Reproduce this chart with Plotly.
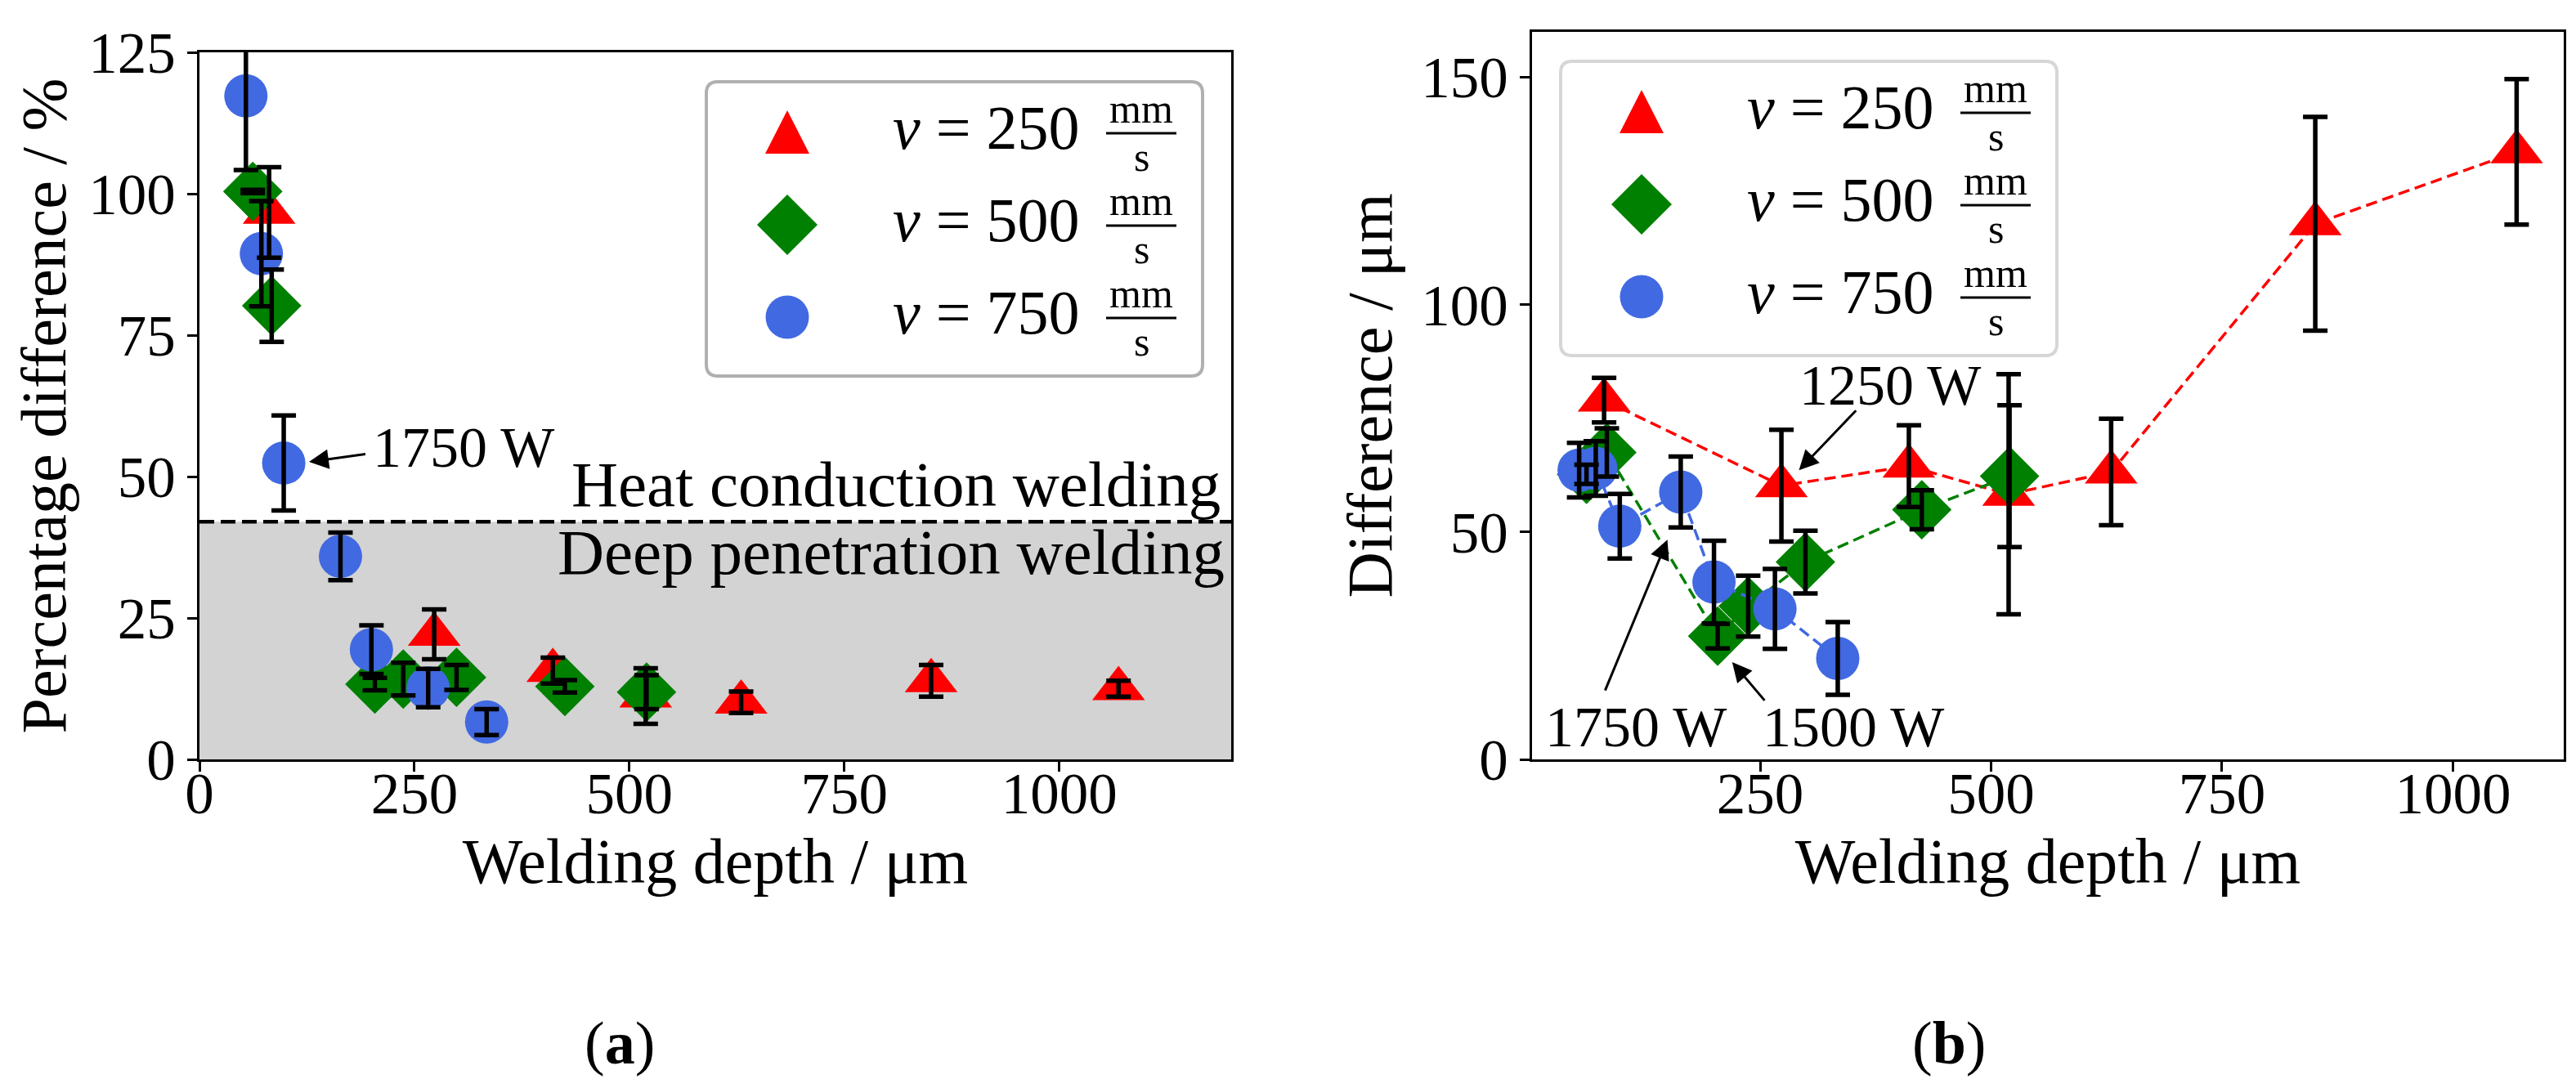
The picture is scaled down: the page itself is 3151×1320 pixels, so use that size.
import plotly.graph_objects as go

W, H = 3151, 1320

# ---------------- data ----------------
speeds = ["250", "500", "750"]
colors = ["#ff0000", "#008000", "#4169e1"]
symbols = ["triangle-up", "diamond", "circle"]
marker_sizes = [56, 56, 53]

depth_250 = [81, 273, 411, 519, 630, 851, 1069]
diff_250 = [79.0, 60.2, 64.5, 58.3, 63.2, 117.8, 133.6]
diff_err_250 = [4.9, 12.3, 9.0, 26.4, 11.7, 23.5, 16.0]
pct_250 = [96.7, 22.1, 15.7, 11.2, 10.1, 13.9, 12.5]
pct_err_250 = [8.0, 4.4, 2.3, 4.9, 1.9, 2.8, 1.4]

depth_500 = [62, 84, 204, 237, 299, 425, 520]
diff_500 = [62.7, 67.5, 27.1, 33.7, 43.4, 54.9, 62.3]
diff_err_500 = [2.1, 5.3, 2.7, 6.7, 6.9, 4.3, 15.6]
pct_500 = [100.4, 80.2, 13.3, 14.2, 14.5, 12.9, 11.9]
pct_err_500 = [0.3, 6.4, 1.1, 2.9, 2.2, 1.1, 3.0]

depth_750 = [54, 72, 98, 164, 200, 266, 334]
diff_750 = [63.6, 64.0, 51.3, 58.8, 39.0, 33.1, 22.2]
diff_err_750 = [6.0, 6.0, 7.1, 7.8, 9.1, 8.8, 8.0]
pct_750 = [117.3, 89.4, 52.4, 35.9, 19.4, 12.6, 6.6]
pct_err_750 = [13.1, 9.3, 8.4, 4.2, 4.3, 3.4, 2.3]

regime_threshold = 42

left_xticks = [0, 250, 500, 750, 1000]
left_yticks = [0, 25, 50, 75, 100, 125]
right_xticks = [250, 500, 750, 1000]
right_yticks = [0, 50, 100, 150]

depths = [depth_250, depth_500, depth_750]
pcts = [pct_250, pct_500, pct_750]
pct_errs = [pct_err_250, pct_err_500, pct_err_750]
diffs = [diff_250, diff_500, diff_750]
diff_errs = [diff_err_250, diff_err_500, diff_err_750]

FONT = "Liberation Serif"
TICK_SIZE = 71
TITLE_SIZE = 78
NOTE_SIZE = 70
ERR_THICK = 5.5
ERR_CAP = 15


def px(x):
    return x / W


def py(y):
    return 1 - y / H


fig = go.Figure()

# ---- left panel: markers then error bars (bars drawn on top) ----
for i in range(3):
    fig.add_trace(go.Scatter(
        x=depths[i], y=pcts[i], mode="markers", xaxis="x", yaxis="y",
        marker=dict(symbol=symbols[i], size=marker_sizes[i], color=colors[i],
                    line=dict(width=0)),
        showlegend=False))
for i in range(3):
    fig.add_trace(go.Scatter(
        x=depths[i], y=pcts[i], mode="markers", xaxis="x", yaxis="y",
        marker=dict(size=1, color="rgba(0,0,0,0)"),
        error_y=dict(type="data", array=pct_errs[i], color="black",
                     thickness=ERR_THICK, width=ERR_CAP),
        showlegend=False, hoverinfo="skip"))

# ---- right panel ----
for i in range(3):
    fig.add_trace(go.Scatter(
        x=depths[i], y=diffs[i], mode="lines+markers", xaxis="x2", yaxis="y2",
        line=dict(color=colors[i], width=3.5, dash="14px,7px"),
        marker=dict(symbol=symbols[i], size=marker_sizes[i], color=colors[i],
                    line=dict(width=0)),
        showlegend=False))
for i in range(3):
    fig.add_trace(go.Scatter(
        x=depths[i], y=diffs[i], mode="markers", xaxis="x2", yaxis="y2",
        marker=dict(size=1, color="rgba(0,0,0,0)"),
        error_y=dict(type="data", array=diff_errs[i], color="black",
                     thickness=ERR_THICK, width=ERR_CAP),
        showlegend=False, hoverinfo="skip"))

# ---------------- shapes ----------------
shapes = []
shapes.append(dict(type="rect", xref="x", yref="y", x0=0, x1=1200, y0=0,
                   y1=regime_threshold, fillcolor="#d3d3d3",
                   line=dict(width=0), layer="below"))
shapes.append(dict(type="line", xref="x", yref="y", x0=0, x1=1200,
                   y0=regime_threshold, y1=regime_threshold,
                   line=dict(color="black", width=4.5, dash="18px,8px"),
                   layer="above"))


def rounded_rect(x0, y0, x1, y1, r):
    pts = [
        ("M", [(x0 + r, y0)]), ("L", [(x1 - r, y0)]),
        ("Q", [(x1, y0), (x1, y0 + r)]), ("L", [(x1, y1 - r)]),
        ("Q", [(x1, y1), (x1 - r, y1)]), ("L", [(x0 + r, y1)]),
        ("Q", [(x0, y1), (x0, y1 - r)]), ("L", [(x0, y0 + r)]),
        ("Q", [(x0, y0), (x0 + r, y0)]),
    ]
    s = ""
    for cmd, ps in pts:
        s += cmd + " ".join("%.6f,%.6f" % (px(a), py(b)) for a, b in ps) + " "
    return s + "Z"


def poly(points):
    return "M" + " L".join("%.6f,%.6f" % (px(a), py(b)) for a, b in points) + " Z"


annotations = []
legend_boxes = [(856, 92, "#b0b0b0"), (1901, 67, "#d6d6d6")]
entry_offsets = [62, 175, 288]
FRAC_SIZE = 50
for (bx, by, bcol) in legend_boxes:
    shapes.append(dict(type="path", xref="paper", yref="paper",
                       path=rounded_rect(bx, by, bx + 607, by + 360, 14),
                       fillcolor="white", line=dict(color=bcol, width=4),
                       layer="above"))
    for i in range(3):
        cy = by + entry_offsets[i]
        cx = bx + 99
        if i == 0:
            shapes.append(dict(type="path", xref="paper", yref="paper",
                               path=poly([(cx, cy - 27), (cx + 27, cy + 26),
                                          (cx - 27, cy + 26)]),
                               fillcolor=colors[0], line=dict(width=0),
                               layer="above"))
        elif i == 1:
            shapes.append(dict(type="path", xref="paper", yref="paper",
                               path=poly([(cx, cy - 37), (cx + 37, cy),
                                          (cx, cy + 37), (cx - 37, cy)]),
                               fillcolor=colors[1], line=dict(width=0),
                               layer="above"))
        else:
            shapes.append(dict(type="circle", xref="paper", yref="paper",
                               x0=px(cx - 26.5), x1=px(cx + 26.5),
                               y0=py(cy + 26.5), y1=py(cy - 26.5),
                               fillcolor=colors[2], line=dict(width=0),
                               layer="above"))
        annotations.append(dict(
            xref="paper", yref="paper", x=px(bx + 226), y=py(cy - 6),
            xanchor="left", yanchor="middle", showarrow=False,
            text="<i>v</i> = " + speeds[i],
            font=dict(family=FONT, size=76, color="black")))
        annotations.append(dict(
            xref="paper", yref="paper", x=px(bx + 532), y=py(cy),
            xanchor="center", yanchor="bottom", showarrow=False, borderpad=0,
            text="mm", font=dict(family=FONT, size=FRAC_SIZE, color="black")))
        annotations.append(dict(
            xref="paper", yref="paper", x=px(bx + 532), y=py(cy + 1),
            xanchor="center", yanchor="top", showarrow=False, borderpad=0,
            text="s", font=dict(family=FONT, size=FRAC_SIZE, color="black")))
        shapes.append(dict(type="line", xref="paper", yref="paper",
                           x0=px(bx + 489), x1=px(bx + 575),
                           y0=py(cy + 1), y1=py(cy + 1),
                           line=dict(color="black", width=3), layer="above"))

# ---------------- text annotations ----------------
annotations += [
    dict(xref="x", yref="y", x=1190, y=48.6, xanchor="right", yanchor="middle",
         text="Heat conduction welding", showarrow=False,
         font=dict(family=FONT, size=79, color="black")),
    dict(xref="x", yref="y", x=1194, y=36.7, xanchor="right", yanchor="middle",
         text="Deep penetration welding", showarrow=False,
         font=dict(family=FONT, size=79, color="black")),
    dict(xref="x", yref="y", x=200, y=55.1, xanchor="left", yanchor="middle",
         text="1750 W", showarrow=False,
         font=dict(family=FONT, size=NOTE_SIZE, color="black")),
    dict(xref="x", yref="y", x=127.4, y=52.6, axref="x", ayref="y",
         ax=194.4, ay=54.0, text="", showarrow=True, arrowhead=2,
         arrowsize=1.6, arrowwidth=3, arrowcolor="black", standoff=0),
    dict(xref="x2", yref="y2", x=390.3, y=82.2, xanchor="center",
         yanchor="middle", text="1250 W", showarrow=False,
         font=dict(family=FONT, size=NOTE_SIZE, color="black")),
    dict(xref="x2", yref="y2", x=292, y=63.6, axref="x2", ayref="y2",
         ax=355, ay=77, text="", showarrow=True, arrowhead=2,
         arrowsize=1.6, arrowwidth=3, arrowcolor="black", standoff=0),
    dict(xref="x2", yref="y2", x=115.6, y=7.1, xanchor="center",
         yanchor="middle", text="1750 W", showarrow=False,
         font=dict(family=FONT, size=NOTE_SIZE, color="black")),
    dict(xref="x2", yref="y2", x=149.6, y=48.3, axref="x2", ayref="y2",
         ax=81.6, ay=14.9, text="", showarrow=True, arrowhead=2,
         arrowsize=1.6, arrowwidth=3, arrowcolor="black", standoff=0),
    dict(xref="x2", yref="y2", x=350.9, y=7.1, xanchor="center",
         yanchor="middle", text="1500 W", showarrow=False,
         font=dict(family=FONT, size=NOTE_SIZE, color="black")),
    dict(xref="x2", yref="y2", x=219.7, y=21.4, axref="x2", ayref="y2",
         ax=255.9, ay=12.7, text="", showarrow=True, arrowhead=2,
         arrowsize=1.6, arrowwidth=3, arrowcolor="black", standoff=0),
    dict(xref="paper", yref="paper", x=px(750), y=py(1268), xanchor="center",
         yanchor="middle", text="(<b>a</b>)", showarrow=False,
         font=dict(family=FONT, size=74, color="black")),
    dict(xref="paper", yref="paper", x=px(2376), y=py(1268), xanchor="center",
         yanchor="middle", text="(<b>b</b>)", showarrow=False,
         font=dict(family=FONT, size=74, color="black")),
]

axis_common = dict(showline=True, linecolor="black", linewidth=3, mirror=True,
                   ticks="outside", ticklen=12, tickwidth=2.5,
                   tickcolor="black", showgrid=False, zeroline=False,
                   automargin=False,
                   tickfont=dict(family=FONT, size=TICK_SIZE, color="black"))

fig.update_layout(
    width=W, height=H,
    margin=dict(l=0, r=0, t=0, b=0),
    paper_bgcolor="white", plot_bgcolor="white",
    font=dict(family=FONT, color="black"),
    showlegend=False,
    xaxis=dict(domain=[px(236), px(1498)], range=[0, 1200],
               tickvals=left_xticks, anchor="y", ticklabelstandoff=-34,
               title=dict(text="Welding depth / μm", standoff=0,
                          font=dict(family=FONT, size=TITLE_SIZE)),
               **axis_common),
    yaxis=dict(domain=[py(921), py(56)], range=[0, 125],
               tickvals=left_yticks, anchor="x",
               title=dict(text="Percentage difference / %", standoff=2,
                          font=dict(family=FONT, size=TITLE_SIZE)),
               **axis_common),
    xaxis2=dict(domain=[px(1866), px(3128)], range=[3, 1120],
                tickvals=right_xticks, anchor="y2", ticklabelstandoff=-34,
                title=dict(text="Welding depth / μm", standoff=0,
                           font=dict(family=FONT, size=TITLE_SIZE)),
                **axis_common),
    yaxis2=dict(domain=[py(921), py(31)], range=[0, 160],
                tickvals=right_yticks, anchor="x2",
                title=dict(text="Difference / μm", standoff=10,
                           font=dict(family=FONT, size=TITLE_SIZE)),
                **axis_common),
    shapes=shapes,
    annotations=annotations,
)

fig.write_html("out.html")
